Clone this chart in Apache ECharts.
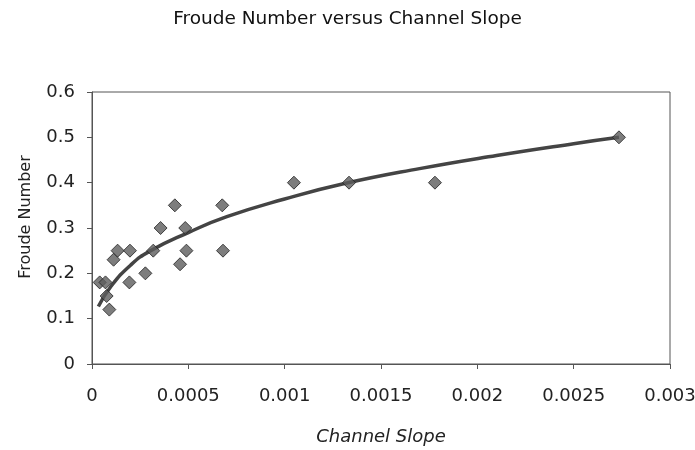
<!DOCTYPE html>
<html>
<head>
<meta charset="utf-8">
<script src="https://cdn.jsdelivr.net/npm/echarts@6/dist/echarts.min.js"></script>
<style>
  html, body { margin: 0; padding: 0; background: #fff; }
  #chart { width: 695px; height: 450px; }
</style>
</head>
<body>
<div id="chart"></div>
<script>
// Measured channel slope (x) and Froude number (y) for each reach
const channelSlope = [
  0.00004, 0.00007, 0.000076, 0.00009, 0.000112, 0.000133, 0.000194, 0.000197,
  0.000277, 0.000318, 0.000356, 0.00043, 0.000457, 0.000484, 0.00049,
  0.000676, 0.00068, 0.001048, 0.001334, 0.00178, 0.002735
];
const froudeNumber = [
  0.18, 0.18, 0.15, 0.12, 0.23, 0.25, 0.18, 0.25,
  0.20, 0.25, 0.30, 0.35, 0.22, 0.30, 0.25,
  0.35, 0.25, 0.40, 0.40, 0.40, 0.50
];

// Power trendline
const trendSlope = [0.000033, 0.0001, 0.0002, 0.0003, 0.0005, 0.0007, 0.001, 0.0013, 0.0017, 0.0021, 0.0025, 0.002735];
const trendFroude = [0.127, 0.172, 0.218, 0.249, 0.29, 0.325, 0.364, 0.397, 0.431, 0.46, 0.486, 0.50];

// Axis ticks
const xTicks = [0, 0.0005, 0.001, 0.0015, 0.002, 0.0025, 0.003];
const yTicks = [0, 0.1, 0.2, 0.3, 0.4, 0.5, 0.6];

const points = channelSlope.map((s, i) => [s, froudeNumber[i]]);
const trend = trendSlope.map((s, i) => [s, trendFroude[i]]);

const font = '"DejaVu Sans", "Liberation Sans", Arial, sans-serif';
const chart = echarts.init(document.getElementById('chart'), null, { renderer: 'canvas' });

chart.setOption({
  backgroundColor: '#ffffff',
  animation: false,
  title: {
    text: 'Froude Number versus Channel Slope',
    left: 'center',
    top: 5,
    textStyle: { fontFamily: font, fontSize: 18.5, fontWeight: 'normal', color: '#111' }
  },
  grid: {
    left: 92, top: 92, width: 578, height: 272,
    outerBoundsMode: 'none',
    show: true, borderColor: '#555', borderWidth: 1
  },
  xAxis: {
    type: 'value',
    min: xTicks[0],
    max: xTicks[xTicks.length - 1],
    interval: 0.0005,
    name: 'Channel Slope',
    nameLocation: 'middle',
    nameGap: 64,
    nameTextStyle: { fontFamily: font, fontSize: 18, fontStyle: 'italic', color: '#222' },
    axisLine: { lineStyle: { color: '#555', width: 1 } },
    axisTick: { show: true, length: 5, inside: false, lineStyle: { color: '#555' } },
    splitLine: { show: false },
    axisLabel: { fontFamily: font, fontSize: 18, color: '#222', margin: 23, formatter: v => String(+v.toFixed(4)) }
  },
  yAxis: {
    type: 'value',
    min: yTicks[0],
    max: yTicks[yTicks.length - 1],
    interval: 0.1,
    name: 'Froude Number',
    nameLocation: 'middle',
    nameGap: 58,
    nameRotate: 90,
    nameTextStyle: { fontFamily: font, fontSize: 16, color: '#222', padding: [0, 0, 0, 22] },
    axisLine: { show: true, lineStyle: { color: '#555', width: 1 } },
    axisTick: { show: true, length: 5, lineStyle: { color: '#555' } },
    splitLine: { show: false },
    axisLabel: { fontFamily: font, fontSize: 18, color: '#222', margin: 17, formatter: v => String(+v.toFixed(1)) }
  },
  series: [
    {
      type: 'line',
      data: trend,
      smooth: true,
      showSymbol: false,
      lineStyle: { color: '#444', width: 3.5 },
      z: 2
    },
    {
      type: 'scatter',
      data: points,
      symbol: 'diamond',
      symbolSize: 13,
      itemStyle: { color: '#5c5c5c', borderColor: '#222', borderWidth: 1 },
      z: 3
    }
  ]
});
</script>
</body>
</html>
